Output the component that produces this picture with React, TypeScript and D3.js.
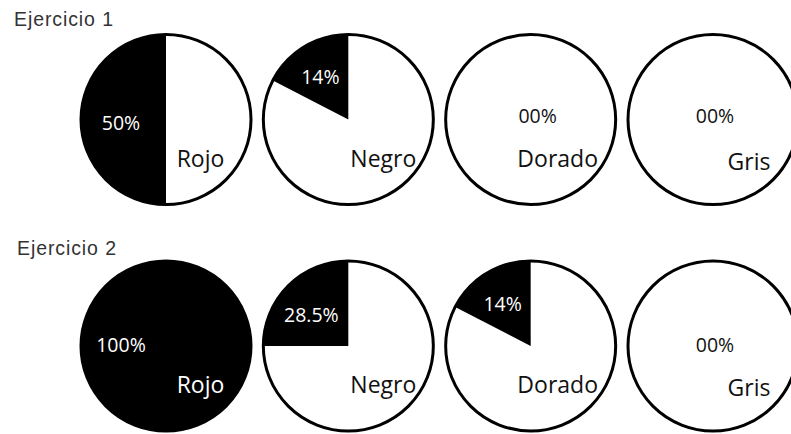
import React from "react";
import * as d3 from "d3";

// ---- data ----
const categories = ["Rojo", "Negro", "Dorado", "Gris"];
const exercises = ["Ejercicio 1", "Ejercicio 2"];
// share of each pie drawn in black (percent, as drawn in the picture)
const sharesEj1 = [50, 17.4, 0, 0];
const sharesEj2 = [100, 25, 17.4, 0];
// percentage labels as printed
const labelsEj1 = ["50%", "14%", "00%", "00%"];
const labelsEj2 = ["100%", "28.5%", "14%", "00%"];

// ---- layout ----
const W = 791;
const H = 434;
const R = 85;
const nameOffsets = [
  [34.5, 47],
  [35, 47],
  [27, 47],
  [36, 50],
];
const pctOffsetsByRow = [
  [
    [-45, 10],
    [-28, -36],
    [7, 3],
    [2, 3],
  ],
  [
    [-45, 6],
    [-37, -24],
    [-28, -35],
    [2, 6],
  ],
];
const titlePos = [
  [14, 26],
  [17, 255],
];

const rows = [
  { title: exercises[0], shares: sharesEj1, labels: labelsEj1 },
  { title: exercises[1], shares: sharesEj2, labels: labelsEj2 },
];

function inSlice(dx: number, dy: number, share: number) {
  if (share <= 0) return false;
  if (share >= 100) return true;
  let a = Math.atan2(dx, -dy);
  if (a > 0) a -= 2 * Math.PI;
  return a >= -2 * Math.PI * (share / 100);
}

export default function App() {
  const x = d3.scalePoint<string>().domain(categories).range([166, 713]);
  const y = d3.scalePoint<string>().domain(exercises).range([119.5, 346]);
  const arc = d3.arc<any>().innerRadius(0).outerRadius(R);

  return (
    <svg
      width={W}
      height={H}
      style={{ position: "absolute", left: 0, top: 0, background: "#fff" }}
    >
      <rect width={W} height={H} fill="#fff" />
      {rows.map((row, ri) => {
        const cy = y(row.title)!;
        return (
          <g key={row.title}>
            <text
              x={titlePos[ri][0]}
              y={titlePos[ri][1]}
              fontFamily="'Liberation Sans', Arial, sans-serif"
              fontSize={19.5}
              fill="#333"
              textLength={99}
              lengthAdjust="spacing"
            >
              {row.title}
            </text>
            {categories.map((cat, ci) => {
              const cx = x(cat)!;
              const share = row.shares[ci];
              const start = -2 * Math.PI * (share / 100);
              const [ndx, ndy] = nameOffsets[ci];
              const [pdx, pdy] = pctOffsetsByRow[ri][ci];
              const nameWhite = inSlice(ndx, ndy - 7, share);
              const pctWhite = inSlice(pdx, pdy - 6, share);
              return (
                <g key={cat} transform={`translate(${cx},${cy})`}>
                  <circle r={R} fill="#fff" />
                  {share > 0 && (
                    <path
                      d={arc({ startAngle: start, endAngle: 0 }) || ""}
                      fill="#000"
                    />
                  )}
                  <circle r={R} fill="none" stroke="#000" strokeWidth={3} />
                  <text
                    x={pdx}
                    y={pdy}
                    textAnchor="middle"
                    fontFamily="'Open Sans', sans-serif"
                    fontSize={19.5}
                    fill={pctWhite ? "#fff" : "#111"}
                  >
                    {row.labels[ci]}
                  </text>
                  <text
                    x={ndx}
                    y={ndy}
                    textAnchor="middle"
                    fontFamily="'Open Sans', sans-serif"
                    fontSize={23}
                    fill={nameWhite ? "#fff" : "#111"}
                  >
                    {cat}
                  </text>
                </g>
              );
            })}
          </g>
        );
      })}
    </svg>
  );
}
